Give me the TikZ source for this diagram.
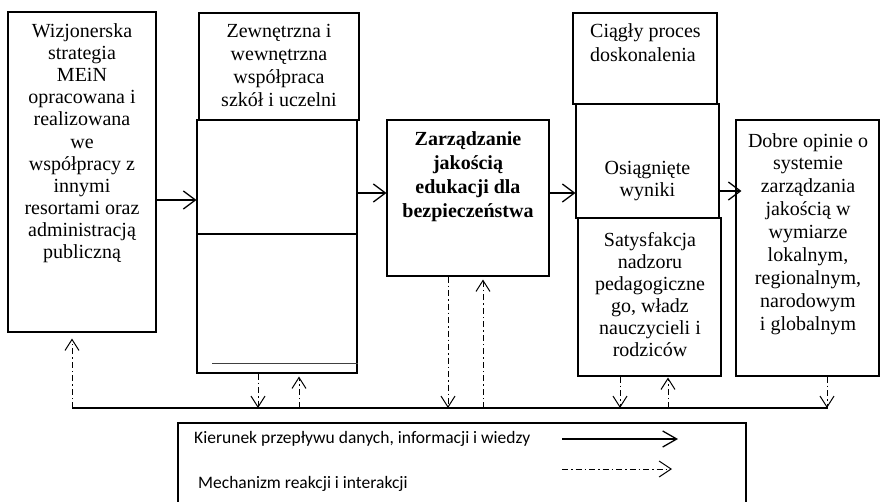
\documentclass[tikz,border=0pt]{standalone}
\usepackage{fontspec}
\setmainfont{Liberation Serif}
\newfontfamily\legfont{Carlito}
\usetikzlibrary{arrows.meta}
\begin{document}
\begin{tikzpicture}[x=1pt,y=-1pt,
  box/.style={draw, line width=1.1pt, inner sep=0pt},
  txt/.style={align=center, inner sep=0pt, anchor=base},
  arr/.style={line width=1.3pt, -{Straight Barb[length=12pt,width=18pt,line width=1.3pt]}},
  dd/.style={line width=1pt, dash pattern=on 6pt off 3pt on 1.5pt off 3pt, -{Straight Barb[length=11pt,width=14pt,line width=1pt]}},
  legtxt/.style={font=\legfont\fontsize{17.5}{20}\selectfont, inner sep=0pt, anchor=base west},
]
\useasboundingbox (0,0) rectangle (881,501);
% boxes
\node[box, minimum width=148pt, minimum height=320pt] (b1) at (82,172) {};
\node[box, minimum width=160pt, minimum height=107pt] (b2a) at (279,66.5) {};
\node[box, minimum width=160pt, minimum height=253pt] (b2b) at (277,246.5) {};
\node[box, minimum width=162pt, minimum height=156pt] (b3) at (468,198) {};
\node[box, minimum width=144pt, minimum height=91pt] (b4a) at (645,58.5) {};
\node[box, minimum width=143pt, minimum height=114pt] (b4b) at (647.5,161) {};
\node[box, minimum width=143pt, minimum height=158pt] (b4c) at (649.5,297) {};
\node[box, minimum width=143pt, minimum height=256pt] (b5) at (807.5,248) {};
% inner lines of box 2
\draw[line width=1.1pt] (b2b.west |- 0,234) -- (b2b.east |- 0,234);
\draw[line width=0.8pt, black!75] (212,363) -- (b2b.east |- 0,363);
% texts (anchored at the baseline of the last line)
\node[txt, font=\fontsize{20}{22.1}\selectfont] (t1) at (82,258.5)
  {Wizjonerska\\strategia\\MEiN\\opracowana i\\realizowana\\we\\współpracy z\\innymi\\resortami oraz\\administracją\\publiczną};
\node[txt, font=\fontsize{20}{23}\selectfont] (t2) at (279,106)
  {Zewnętrzna i\\wewnętrzna\\współpraca\\szkół i uczelni};
\node[txt, font=\bfseries\fontsize{20}{24}\selectfont] (t3) at (468,217)
  {Zarządzanie\\jakością\\edukacji dla\\bezpieczeństwa};
\node[txt, align=left, anchor=base west, font=\fontsize{20}{24.5}\selectfont] (t4) at (590,61.5)
  {Ciągły proces\\doskonalenia};
\node[txt, font=\fontsize{20}{22.7}\selectfont] (t5) at (647.5,196.7)
  {Osiągnięte\\wyniki};
\node[txt, font=\fontsize{20}{22}\selectfont] (t6) at (650,356)
  {Satysfakcja\\nadzoru\\pedagogiczne\\go, władz\\nauczycieli i\\rodziców};
\node[txt, font=\fontsize{20}{22.9}\selectfont] (t7) at (808,330.2)
  {Dobre opinie o\\systemie\\zarządzania\\jakością w\\wymiarze\\lokalnym,\\regionalnym,\\narodowym\\i globalnym};
% solid arrows
\draw[arr] (b1.east |- 0,200) -- (b2b.west |- 0,200);
\draw[arr] (b2b.east |- 0,193) -- (b3.west |- 0,193);
\draw[arr] (b3.east |- 0,193) -- (b4b.west |- 0,193);
\draw[arr] (b4b.east |- 0,191) -- ([xshift=6pt]b5.west |- 0,191);
% bus
\coordinate (busL) at (72,408);
\coordinate (busR) at (828,408);
\draw[line width=1.8pt] (busL) -- (busR);
\coordinate (p1) at (258,408);
\coordinate (p2) at (299,408);
\coordinate (p3) at (448,408);
\coordinate (p4) at (483,408);
\coordinate (p5) at (620,408);
\coordinate (p6) at (668,408);
\coordinate (p7) at (827,408);
\draw[dd] (busL) -- ([yshift=-6pt]b1.south -| busL);
\draw[dd] (b2b.south -| p1) -- (p1);
\draw[dd] (p2) -- ([yshift=-3pt]b2b.south -| p2);
\draw[dd] (b3.south -| p3) -- (p3);
\draw[dd] (p4) -- ([yshift=-3pt]b3.south -| p4);
\draw[dd] (b4c.south -| p5) -- (p5);
\draw[dd] (p6) -- ([yshift=-1pt]b4c.south -| p6);
\draw[dd] (b5.south -| p7) -- (p7);
% legend
\draw[line width=1.1pt] (178,520) |- (746,423) -- (746,520);
\node[legtxt] (l1) at (194,443) {Kierunek przepływu danych, informacji i wiedzy};
\node[legtxt] (l2) at (198,488) {Mechanizm reakcji i interakcji};
\coordinate (la1) at (562,439);
\coordinate (lb1) at (678,439);
\coordinate (la2) at (562,469);
\coordinate (lb2) at (672,469);
\draw[arr, line width=1.3pt, -{Straight Barb[length=14pt,width=16pt,line width=1.3pt]}] (la1) -- (lb1);
\draw[dd, -{Straight Barb[length=12pt,width=16pt,line width=1pt]}] (la2) -- (lb2);
\end{tikzpicture}
\end{document}
